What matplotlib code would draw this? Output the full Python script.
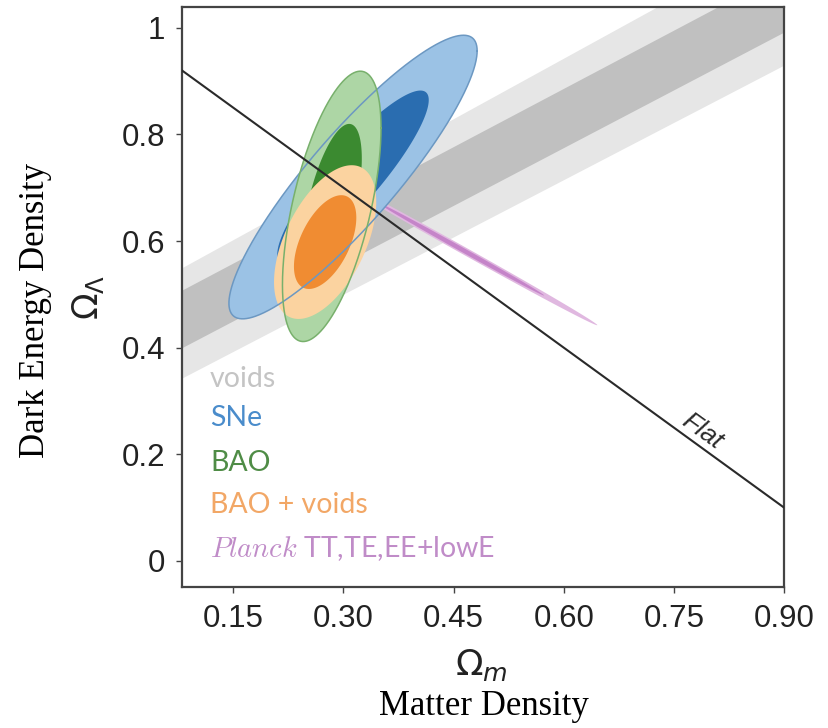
import numpy as np
import matplotlib
matplotlib.use("Agg")
import matplotlib.pyplot as plt

# contour data: centre, sigmas and correlation in (Omega_m, Omega_Lambda)
sne_mean = [0.313, 0.720]
sne_sig = [0.068, 0.107]
sne_rho = 0.89

bao_mean = [0.284, 0.665]
bao_sig = [0.027, 0.102]
bao_rho = 0.58

baov_mean = [0.275, 0.598]
baov_sig = [0.028, 0.058]
baov_rho = 0.52

planck_mean = [0.46, 0.585]
planck_sig = [0.0747, 0.0575]
planck_rho = -0.9985

# voids bands (edges at the two ends of the Omega_m range)
voids_om = [0.08, 0.90]
voids_2s_lo = [0.343, 0.930]
voids_2s_hi = [0.550, 1.170]
voids_1s_lo = [0.400, 0.992]
voids_1s_hi = [0.508, 1.105]

chi2_levels = [6.18, 2.30]   # 2 sigma, 1 sigma

xticks = [0.15, 0.30, 0.45, 0.60, 0.75, 0.90]
xticklabels = ["0.15", "0.30", "0.45", "0.60", "0.75", "0.90"]
yticks = [0, 0.2, 0.4, 0.6, 0.8, 1.0]
yticklabels = ["0", "0.2", "0.4", "0.6", "0.8", "1"]


def ellipse(mean, sig, rho, chi2, n=600):
    cov = np.array([[sig[0] ** 2, rho * sig[0] * sig[1]],
                    [rho * sig[0] * sig[1], sig[1] ** 2]])
    L = np.linalg.cholesky(cov)
    t = np.linspace(0, 2 * np.pi, n)
    pts = np.sqrt(chi2) * L @ np.vstack([np.cos(t), np.sin(t)])
    return pts[0] + mean[0], pts[1] + mean[1]


fig = plt.figure(figsize=(8.29, 7.28), dpi=100)
ax = fig.add_axes([0.2195, 0.1937, 0.7262, 0.7967])
ax.set_xlim(0.08, 0.90)
ax.set_ylim(-0.049, 1.039)

# voids
ax.fill_between(voids_om, voids_2s_lo, voids_2s_hi, color="#E6E6E6", lw=0, zorder=1)
ax.fill_between(voids_om, voids_1s_lo, voids_1s_hi, color="#C0C0C0", lw=0, zorder=1)

# planck
for lev, col in zip(chi2_levels, ["#E0B8E0", "#C584C9"]):
    x, y = ellipse(planck_mean, planck_sig, planck_rho, lev)
    ax.fill(x, y, color=col, lw=0, zorder=2)

sets = [
    (sne_mean, sne_sig, sne_rho, ["#9BC2E5", "#2A6DB0"]),
    (bao_mean, bao_sig, bao_rho, ["#ADD6A5", "#3B8A30"]),
    (baov_mean, baov_sig, baov_rho, ["#FBD3A0", "#F08C32"]),
]
for mean, sig, rho, cols in sets:
    for lev, col in zip(chi2_levels, cols):
        x, y = ellipse(mean, sig, rho, lev)
        ax.fill(x, y, color=col, lw=0, zorder=3)

# outlines on top
for mean, sig, rho, col in [(sne_mean, sne_sig, sne_rho, "#6C98C2"),
                            (bao_mean, bao_sig, bao_rho, "#78B06C")]:
    x, y = ellipse(mean, sig, rho, chi2_levels[0])
    ax.plot(x, y, color=col, lw=1.1, zorder=4)

# flat universe line
om = np.linspace(0.08, 0.90, 50)
ax.plot(om, 1 - om, color="#2A2A2A", lw=1.5, zorder=5)

fig.canvas.draw()
p1 = ax.transData.transform((0.5, 0.5))
p2 = ax.transData.transform((0.6, 0.4))
ang = np.degrees(np.arctan2(p2[1] - p1[1], p2[0] - p1[0]))
ax.annotate("Flat", xy=(0.778, 1 - 0.778), xytext=(0.6, 0.8), textcoords="offset points",
            rotation=ang, rotation_mode="anchor", ha="center", va="bottom",
            fontsize=19, style="italic", family="Liberation Sans", color="#2A2A2A", zorder=6)

# legend texts
leg_font = dict(fontsize=20.5, family="Lato", transform=ax.transAxes, va="baseline")
ax.text(0.0465, 0.345, "voids", color="#C4C4C4", **leg_font)
ax.text(0.0465, 0.278, "SNe", color="#4A8CCB", **leg_font)
ax.text(0.0465, 0.200, "BAO", color="#4F8C46", **leg_font)
ax.text(0.0465, 0.128, "BAO + voids", color="#F2A766", **leg_font)
ax.text(0.0465, 0.052, r"$\mathit{Planck}$ TT,TE,EE+lowE", color="#C08CC8",
        math_fontfamily="cm", **leg_font)

# axes styling
for s in ax.spines.values():
    s.set_color("#444444")
    s.set_linewidth(1.6)
ax.set_xticks(xticks)
ax.set_xticklabels(xticklabels)
ax.set_yticks(yticks)
ax.set_yticklabels(yticklabels)
ax.tick_params(direction="out", length=4, width=1, color="#444444", pad=8,
               labelsize=22.5, labelcolor="#222222")
for lab in ax.get_xticklabels() + ax.get_yticklabels():
    lab.set_family("Liberation Sans")

ax.set_xlabel(r"$\Omega_m$", fontsize=26, color="#222222")
ax.xaxis.set_label_coords(0.497, -0.103)
ax.set_ylabel(r"$\Omega_\Lambda$", fontsize=25, color="#222222")
ax.yaxis.set_label_coords(-0.126, 0.5)

fig.text(0.043, 0.573, "Dark Energy Density", rotation=90, ha="center", va="center",
         fontsize=25, family="Liberation Serif")
fig.text(0.584, 0.029, "Matter Density", ha="center", va="center",
         fontsize=25, family="Liberation Serif")

fig.savefig("out.png", dpi=100)
